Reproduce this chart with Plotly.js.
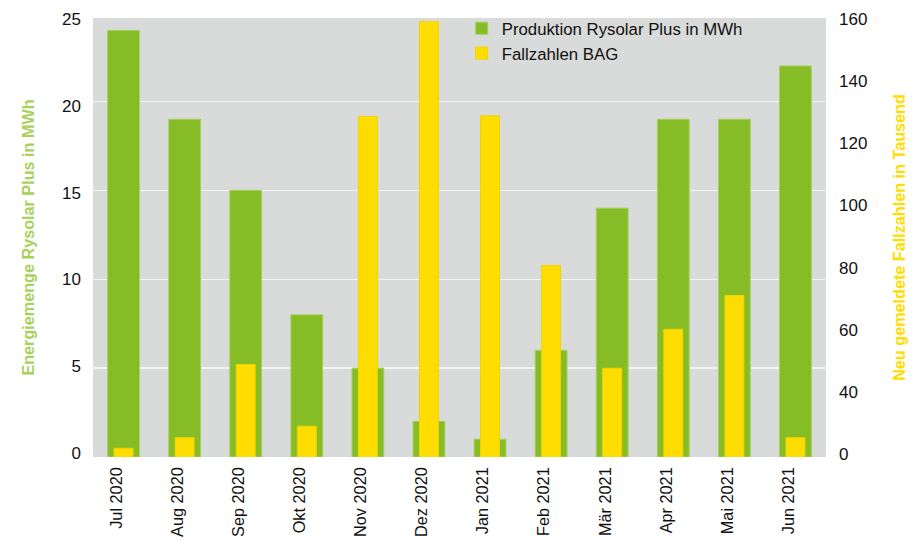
<!DOCTYPE html>
<html>
<head>
<meta charset="utf-8">
<script src="https://cdn.plot.ly/plotly-3.0.1.min.js"></script>
<style>html,body{margin:0;padding:0;background:#fff;}#chart{width:923px;height:540px;}</style>
</head>
<body>
<div id="chart"></div>
<script>
const months = ["Jul 2020","Aug 2020","Sep 2020","Okt 2020","Nov 2020","Dez 2020","Jan 2021","Feb 2021","Mär 2021","Apr 2021","Mai 2021","Jun 2021"];
const produktion = [24, 19, 15, 8, 5, 2, 1, 6, 14, 19, 19, 22];
const fallzahlen = [22.0, 25.4, 48.9, 29.1, 128.6, 159.0, 128.8, 80.7, 47.7, 60.2, 71.1, 25.4];
const leftTicks = [0, 5, 10, 15, 20, 25];
const gridTicks = [5, 10, 15, 20];
const rightTickVals = [20, 40, 60, 80, 100, 120, 140, 160];
const rightTickText = ["0", "40", "60", "80", "100", "120", "140", "160"];

const font = "Liberation Sans, Arial, Helvetica, sans-serif";
const data = [
  {type:"bar", x:months, y:produktion, name:"Produktion Rysolar Plus in MWh", yaxis:"y",
   width:0.52, marker:{color:"#86bc25", line:{color:"#a3cf5c", width:1}}},
  {type:"bar", x:months, y:fallzahlen, name:"Fallzahlen BAG", yaxis:"y2",
   width:0.31, marker:{color:"#ffdd00", line:{color:"#f0d400", width:1}}},
  {type:"scatter", x:[], y:[], yaxis:"y3", showlegend:false, hoverinfo:"skip"}
];
const layout = {
  width:923, height:540,
  margin:{l:93, r:97, t:17, b:83},
  paper_bgcolor:"#ffffff", plot_bgcolor:"#d9dada",
  barmode:"overlay",
  font:{family:font, size:16, color:"#111"},
  showlegend:true,
  legend:{x:0.503, y:1.014, xanchor:"left", yanchor:"top", bgcolor:"rgba(0,0,0,0)",
          font:{family:font, size:16.8, color:"#111"}, tracegroupgap:0, itemwidth:30},
  xaxis:{tickangle:-90, showgrid:false, zeroline:false, showline:false, ticks:"",
         tickfont:{family:font, size:16.3}, range:[-0.5, 11.5],
         ticklabelstandoff:6, ticklabelshift:-7},
  yaxis:{range:[0, 24.7], tickvals:gridTicks, showticklabels:false, showgrid:true,
         gridcolor:"#f2f2f2", gridwidth:1.5, zeroline:false, showline:false, ticks:""},
  yaxis3:{range:[-0.23, 25.07], tickvals:leftTicks, overlaying:"y", side:"left", showgrid:false,
         zeroline:false, showline:false, ticks:"", ticklabelstandoff:11,
         tickfont:{family:font, size:17},
         title:{text:"<b>Energiemenge Rysolar Plus in MWh</b>", font:{family:font, size:16.2, color:"#a9d15e"}, standoff:23}},
  yaxis2:{range:[19.2, 160.2], tickvals:rightTickVals, ticktext:rightTickText, overlaying:"y", side:"right", showgrid:false,
          zeroline:false, showline:false, ticks:"", ticklabelstandoff:12,
          tickfont:{family:font, size:17},
          title:{text:"<b>Neu gemeldete Fallzahlen in Tausend</b>", font:{family:font, size:16.2, color:"#ffdd00"}, standoff:27}}
};
Plotly.newPlot("chart", data, layout, {displayModeBar:false, staticPlot:true});
</script>
</body>
</html>
